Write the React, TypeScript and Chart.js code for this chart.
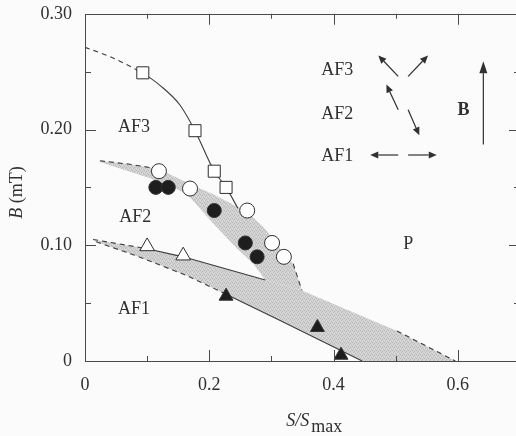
import { useEffect, useRef } from 'react';
import { Chart, registerables } from 'chart.js';

Chart.register(...registerables);

type Pt = { x: number; y: number };

// Measured transition fields, B (mT) vs S/Smax
const squaresAF3: Pt[] = [
  { x: 0.093, y: 0.249 },
  { x: 0.177, y: 0.199 },
  { x: 0.208, y: 0.164 },
  { x: 0.227, y: 0.150 },
];
const openCircles: Pt[] = [
  { x: 0.119, y: 0.164 },
  { x: 0.169, y: 0.149 },
  { x: 0.261, y: 0.130 },
  { x: 0.301, y: 0.102 },
  { x: 0.320, y: 0.090 },
];
const filledCircles: Pt[] = [
  { x: 0.114, y: 0.150 },
  { x: 0.134, y: 0.150 },
  { x: 0.208, y: 0.130 },
  { x: 0.258, y: 0.102 },
  { x: 0.277, y: 0.090 },
];
const openTriangles: Pt[] = [
  { x: 0.100, y: 0.099 },
  { x: 0.158, y: 0.091 },
];
const filledTriangles: Pt[] = [
  { x: 0.227, y: 0.056 },
  { x: 0.374, y: 0.029 },
  { x: 0.412, y: 0.005 },
];

// AF3 phase boundary
const af3Extrapolated: Pt[] = [
  { x: 0.0, y: 0.271 },
  { x: 0.04, y: 0.263 },
  { x: 0.093, y: 0.249 },
];
const af3Boundary: Pt[] = [
  { x: 0.093, y: 0.249 },
  { x: 0.121, y: 0.238 },
  { x: 0.153, y: 0.221 },
  { x: 0.177, y: 0.199 },
  { x: 0.208, y: 0.164 },
  { x: 0.227, y: 0.150 },
  { x: 0.246, y: 0.132 },
];

// Hysteresis band between AF2 and AF3
const upperBandTop: Pt[] = [
  { x: 0.024, y: 0.173 },
  { x: 0.072, y: 0.170 },
  { x: 0.118, y: 0.166 },
  { x: 0.169, y: 0.153 },
  { x: 0.206, y: 0.144 },
  { x: 0.261, y: 0.129 },
  { x: 0.290, y: 0.114 },
  { x: 0.314, y: 0.097 },
  { x: 0.335, y: 0.084 },
  { x: 0.349, y: 0.061 },
];
const upperBandBottom: Pt[] = [
  { x: 0.024, y: 0.172 },
  { x: 0.105, y: 0.158 },
  { x: 0.163, y: 0.145 },
  { x: 0.206, y: 0.119 },
  { x: 0.245, y: 0.097 },
  { x: 0.271, y: 0.084 },
  { x: 0.290, y: 0.070 },
];

// Hysteresis band between AF1 and AF2 (continuing to the paramagnetic phase)
const lowerBandTop: Pt[] = [
  { x: 0.013, y: 0.105 },
  { x: 0.100, y: 0.097 },
  { x: 0.158, y: 0.090 },
  { x: 0.290, y: 0.070 },
  { x: 0.349, y: 0.061 },
  { x: 0.502, y: 0.026 },
  { x: 0.596, y: 0.0 },
];
const lowerBandBottom: Pt[] = [
  { x: 0.018, y: 0.103 },
  { x: 0.082, y: 0.091 },
  { x: 0.163, y: 0.074 },
  { x: 0.222, y: 0.059 },
  { x: 0.314, y: 0.035 },
  { x: 0.446, y: 0.0 },
];

const xTickLabels = ['0', '0.2', '0.4', '0.6'];
const yTickLabels = ['0', '0.10', '0.20', '0.30'];

const FONT = '"Liberation Serif", "Times New Roman", serif';
const INK = '#303030';

// Region names placed in data coordinates
const regionLabels: { text: string; x: number; y: number; bold?: boolean }[] = [
  { text: 'AF3', x: 0.079, y: 0.202 },
  { text: 'AF2', x: 0.081, y: 0.124 },
  { text: 'AF1', x: 0.079, y: 0.045 },
  { text: 'P', x: 0.520, y: 0.101 },
  { text: 'AF3', x: 0.406, y: 0.251 },
  { text: 'AF2', x: 0.406, y: 0.213 },
  { text: 'AF1', x: 0.406, y: 0.177 },
  { text: 'B', x: 0.609, y: 0.217, bold: true },
];

// Spin arrangement sketch: [from, to] in data coordinates
const spinArrows: [Pt, Pt][] = [
  [{ x: 0.504, y: 0.246 }, { x: 0.472, y: 0.264 }],
  [{ x: 0.520, y: 0.246 }, { x: 0.552, y: 0.264 }],
  [{ x: 0.504, y: 0.217 }, { x: 0.485, y: 0.239 }],
  [{ x: 0.520, y: 0.217 }, { x: 0.538, y: 0.195 }],
  [{ x: 0.504, y: 0.178 }, { x: 0.459, y: 0.178 }],
  [{ x: 0.520, y: 0.178 }, { x: 0.566, y: 0.178 }],
];
const fieldArrow: [Pt, Pt] = [{ x: 0.641, y: 0.187 }, { x: 0.641, y: 0.259 }];

function closedShape(top: Pt[], bottom: Pt[]): Pt[] {
  return [...top, ...bottom.slice().reverse(), top[0]];
}

function makeStipple(): CanvasPattern | string {
  const c = document.createElement('canvas');
  c.width = 4;
  c.height = 4;
  const g = c.getContext('2d');
  if (!g) return '#cdcdcd';
  g.fillStyle = '#d2d2d2';
  g.fillRect(0, 0, 4, 4);
  g.fillStyle = '#b8b8b8';
  g.fillRect(0, 0, 1, 1);
  g.fillRect(2, 1, 1, 1);
  g.fillRect(1, 2, 1, 1);
  g.fillRect(3, 3, 1, 1);
  g.fillStyle = '#dedede';
  g.fillRect(2, 3, 1, 1);
  g.fillRect(0, 2, 1, 1);
  return g.createPattern(c, 'repeat') ?? '#cdcdcd';
}

function drawArrow(ctx: CanvasRenderingContext2D, x1: number, y1: number, x2: number, y2: number, head: number, half: number) {
  const ang = Math.atan2(y2 - y1, x2 - x1);
  const bx = x2 - Math.cos(ang) * head;
  const by = y2 - Math.sin(ang) * head;
  ctx.beginPath();
  ctx.moveTo(x1, y1);
  ctx.lineTo(bx, by);
  ctx.stroke();
  ctx.beginPath();
  ctx.moveTo(x2, y2);
  ctx.lineTo(bx + Math.sin(ang) * half, by - Math.cos(ang) * half);
  ctx.lineTo(bx - Math.sin(ang) * half, by + Math.cos(ang) * half);
  ctx.closePath();
  ctx.fill();
}

const framePlugin = {
  id: 'frameTicks',
  afterDraw(chart: any) {
    const { ctx, chartArea: a } = chart;
    const xs = chart.scales.x;
    const ys = chart.scales.y;
    ctx.save();
    ctx.strokeStyle = '#4a4a4a';
    ctx.lineWidth = 1;
    ctx.strokeRect(Math.round(a.left) + 0.5, Math.round(a.top) + 0.5, Math.round(a.right - a.left), Math.round(a.bottom - a.top));
    ctx.beginPath();
    for (let i = 1; i <= 6; i++) {
      const px = Math.round(xs.getPixelForValue(i / 10)) + 0.5;
      const len = i % 2 === 0 ? 11 : 5;
      ctx.moveTo(px, a.bottom);
      ctx.lineTo(px, a.bottom - len);
      ctx.moveTo(px, a.top);
      ctx.lineTo(px, a.top + len);
    }
    for (let i = 1; i <= 5; i++) {
      const py = Math.round(ys.getPixelForValue(i * 0.05)) + 0.5;
      const len = i % 2 === 0 ? 11 : 6;
      ctx.moveTo(a.left, py);
      ctx.lineTo(a.left + len, py);
      ctx.moveTo(a.right, py);
      ctx.lineTo(a.right - len, py);
    }
    ctx.stroke();

    // axis titles
    ctx.fillStyle = INK;
    ctx.textBaseline = 'alphabetic';
    // B (mT)
    ctx.save();
    ctx.translate(a.left - 63, (a.top + a.bottom) / 2 + 5);
    ctx.rotate(-Math.PI / 2);
    ctx.font = `italic 18px ${FONT}`;
    const wB = ctx.measureText('B').width;
    ctx.font = `18px ${FONT}`;
    const wRest = ctx.measureText(' (mT)').width;
    const start = -(wB + wRest) / 2;
    ctx.font = `italic 18px ${FONT}`;
    ctx.textAlign = 'left';
    ctx.fillText('B', start, 0);
    ctx.font = `18px ${FONT}`;
    ctx.fillText(' (mT)', start + wB, 0);
    ctx.restore();
    // S/Smax
    ctx.font = `italic 18px ${FONT}`;
    const wS = ctx.measureText('S/S').width;
    ctx.font = `18px ${FONT}`;
    const wMax = ctx.measureText('max').width;
    const cx = xs.getPixelForValue(0.369);
    const sx = cx - (wS + wMax + 2) / 2;
    ctx.textAlign = 'left';
    ctx.font = `italic 18px ${FONT}`;
    ctx.fillText('S/S', sx, a.bottom + 65);
    ctx.font = `18px ${FONT}`;
    ctx.fillText('max', sx + wS + 2, a.bottom + 71);
    ctx.restore();
  },
};

const annotationPlugin = {
  id: 'phaseNotes',
  afterDatasetsDraw(chart: any) {
    const { ctx } = chart;
    const xs = chart.scales.x;
    const ys = chart.scales.y;
    ctx.save();
    ctx.fillStyle = INK;
    ctx.textAlign = 'center';
    ctx.textBaseline = 'middle';
    for (const l of regionLabels) {
      ctx.font = `${l.bold ? 'bold ' : ''}18px ${FONT}`;
      ctx.fillText(l.text, xs.getPixelForValue(l.x), ys.getPixelForValue(l.y));
    }
    ctx.strokeStyle = INK;
    ctx.lineWidth = 1.2;
    for (const [p, q] of spinArrows) {
      drawArrow(ctx, xs.getPixelForValue(p.x), ys.getPixelForValue(p.y), xs.getPixelForValue(q.x), ys.getPixelForValue(q.y), 8, 3.5);
    }
    drawArrow(
      ctx,
      xs.getPixelForValue(fieldArrow[0].x),
      ys.getPixelForValue(fieldArrow[0].y),
      xs.getPixelForValue(fieldArrow[1].x),
      ys.getPixelForValue(fieldArrow[1].y),
      12,
      4
    );
    ctx.restore();
  },
};

const CANVAS_W = 560;
const CANVAS_H = 446;

export default function App() {
  const ref = useRef<HTMLCanvasElement | null>(null);

  useEffect(() => {
    const canvas = ref.current;
    if (!canvas) return;
    const stipple = makeStipple();
    const edge = '#3c3c3c';
    const dash = [5, 4];

    const marker = (data: Pt[], style: string, radius: number, fill: string) => ({
      type: 'scatter' as const,
      data,
      showLine: false,
      pointStyle: style,
      pointRadius: radius,
      pointBackgroundColor: fill,
      pointBorderColor: '#2e2e2e',
      pointBorderWidth: 1,
      clip: false as const,
    });
    const curve = (data: Pt[], dashed: boolean, smooth: boolean) => ({
      type: 'line' as const,
      data,
      borderColor: edge,
      borderWidth: 1.1,
      borderDash: dashed ? dash : [],
      pointRadius: 0,
      fill: false,
      cubicInterpolationMode: smooth ? ('monotone' as const) : ('default' as const),
      tension: 0,
      clip: false as const,
    });
    const band = (data: Pt[]) => ({
      type: 'line' as const,
      data,
      borderWidth: 0,
      borderColor: 'rgba(0,0,0,0)',
      backgroundColor: stipple,
      pointRadius: 0,
      fill: 'shape' as const,
      tension: 0,
    });

    const chart = new Chart(canvas, {
      type: 'line',
      data: {
        datasets: [
          marker(filledTriangles, 'triangle', 8, '#1e1e1e'),
          marker(openTriangles, 'triangle', 8.5, '#ffffff'),
          marker(filledCircles, 'circle', 7, '#1e1e1e'),
          marker(openCircles, 'circle', 7.5, '#ffffff'),
          marker(squaresAF3, 'rect', 8.5, '#ffffff'),
          curve(af3Extrapolated, true, true),
          curve(af3Boundary, false, true),
          curve(upperBandTop.slice(0, 3), true, false),
          curve(upperBandTop.slice(-2), true, false),
          curve(lowerBandTop.slice(-2), true, false),
          curve(lowerBandTop.slice(0, 2), true, false),
          curve(lowerBandTop.slice(1, 4), false, false),
          curve(lowerBandBottom.slice(0, 4), true, false),
          curve(lowerBandBottom.slice(3), false, false),
          band(closedShape(upperBandTop, upperBandBottom)),
          band(closedShape(lowerBandTop, lowerBandBottom)),
        ] as any,
      },
      options: {
        responsive: false,
        animation: false,
        devicePixelRatio: 1,
        parsing: false,
        layout: { padding: { top: 0, right: 40, left: 0, bottom: 0 } },
        plugins: {
          legend: { display: false },
          tooltip: { enabled: false },
        },
        scales: {
          x: {
            type: 'linear',
            min: 0,
            max: 0.7,
            grid: { display: false, drawTicks: false },
            border: { display: false },
            ticks: {
              stepSize: 0.1,
              padding: 13,
              autoSkip: false,
              maxRotation: 0,
              color: INK,
              font: { family: FONT, size: 18 },
              callback: (v: any) => {
                const k = Math.round(Number(v) * 10);
                return k % 2 === 0 && k / 2 < xTickLabels.length ? xTickLabels[k / 2] : '';
              },
            },
            afterFit: (s: any) => {
              s.height = 75;
            },
          },
          y: {
            type: 'linear',
            min: 0,
            max: 0.3,
            grid: { display: false, drawTicks: false },
            border: { display: false },
            ticks: {
              stepSize: 0.05,
              padding: 13,
              autoSkip: false,
              color: INK,
              font: { family: FONT, size: 18 },
              callback: (v: any) => {
                const k = Math.round(Number(v) * 20);
                return k % 2 === 0 ? yTickLabels[k / 2] : '';
              },
            },
            afterFit: (s: any) => {
              s.width = 85;
            },
          },
        },
      },
      plugins: [annotationPlugin, framePlugin],
    });
    return () => chart.destroy();
  }, []);

  return (
    <div
      style={{
        position: 'fixed',
        left: 0,
        top: 0,
        width: 516,
        height: 436,
        overflow: 'hidden',
        background: '#fbfbfb',
      }}
    >
      <canvas
        ref={ref}
        width={CANVAS_W}
        height={CANVAS_H}
        style={{ display: 'block', width: CANVAS_W, height: CANVAS_H, marginTop: -10 }}
      />
    </div>
  );
}
